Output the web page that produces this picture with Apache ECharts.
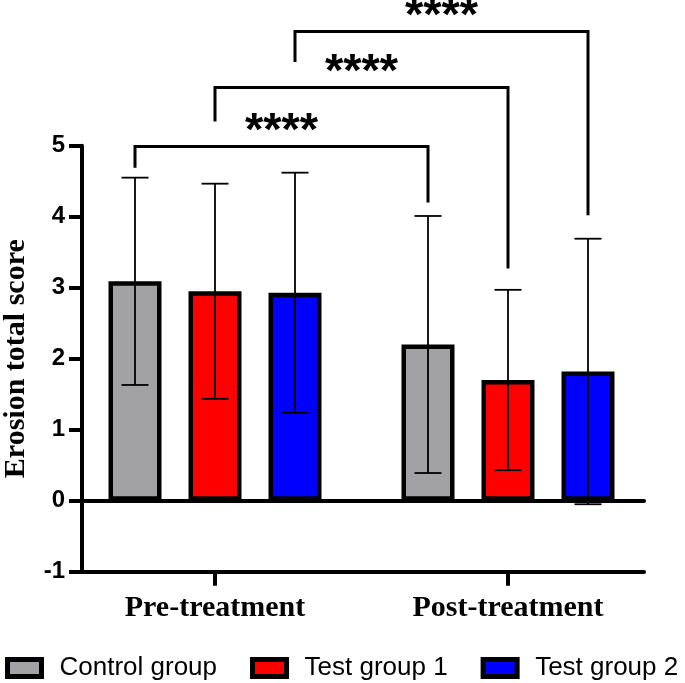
<!DOCTYPE html>
<html><head><meta charset="utf-8">
<script src="https://cdn.jsdelivr.net/npm/echarts@6/dist/echarts.min.js"></script>
<style>html,body{margin:0;padding:0;background:#fff}#c{width:685px;height:683px}</style>
</head><body><div id="c"></div>
<script>
// ---- data ----
const categories = ['Pre-treatment', 'Post-treatment'];
const groupNames = ['Control group', 'Test group 1', 'Test group 2'];
const groupColors = ['#a2a1a6', '#ff0000', '#0000ff'];
const controlMean = [3.09, 2.20];
const test1Mean = [2.95, 1.70];
const test2Mean = [2.93, 1.82];
const controlSD = [1.46, 1.81];
const test1SD = [1.515, 1.27];
const test2SD = [1.69, 1.87];
const yMin = -1, yMax = 5, yStep = 1;
// significance brackets: group index, bracket level, left leg end, right leg end (data units)
const bracketGroup = [0, 1, 2];
const bracketLevel = [4.99, 5.82, 6.61];
const bracketLeftEnd = [4.69, 5.34, 6.18];
const bracketRightEnd = [4.20, 3.27, 4.02];
const bracketLabel = ['****', '****', '****'];

// ---- style constants ----
const BAR_W = 53, BAR_GAP = 27 / 53, BORDER = 4.5;
const CAP_W = 27;
const means = [controlMean, test1Mean, test2Mean];
const sds = [controlSD, test1SD, test2SD];
function barOffset(g) { return (g - 1) * BAR_W * (1 + BAR_GAP); }

const errData = [];
for (let g = 0; g < 3; g++) for (let c = 0; c < categories.length; c++) {
  errData.push([c, means[g][c] - sds[g][c], means[g][c] + sds[g][c], g]);
}
const bracketData = bracketGroup.map((g, i) => [g, bracketLevel[i], bracketLeftEnd[i], bracketRightEnd[i], i]);

const gridBox = { top: 145.7, bottom: 683 - 571.7, containLabel: false, outerBoundsMode: 'none' };
const chart = echarts.init(document.getElementById('c'), null, { renderer: 'canvas' });
const axisBlack = { color: '#000', width: 4 };

chart.setOption({
  animation: false,
  backgroundColor: '#fff',
  grid: [
    Object.assign({ left: 68.5, right: 685 - 654.5 }, gridBox),
    Object.assign({ left: 82, right: 685 - 644 }, gridBox),
    Object.assign({ left: 82, right: 685 - 644 }, gridBox)
  ],
  xAxis: [
    { type: 'category', gridIndex: 0, data: categories,
      axisLine: { show: false, onZero: false },
      axisTick: { show: true, alignWithLabel: true, length: 14, lineStyle: axisBlack },
      axisLabel: { margin: 22, color: '#000', fontFamily: '"Liberation Serif","Times New Roman",serif', fontWeight: 'bold', fontSize: 30 } },
    { type: 'value', gridIndex: 1, min: 0, max: 1,
      axisLine: { show: true, onZero: false, lineStyle: axisBlack },
      axisTick: { show: false }, axisLabel: { show: false }, splitLine: { show: false } },
    { type: 'value', gridIndex: 2, min: 0, max: 1,
      axisLine: { show: true, onZero: true, lineStyle: axisBlack },
      axisTick: { show: false }, axisLabel: { show: false }, splitLine: { show: false } }
  ],
  yAxis: [
    { type: 'value', gridIndex: 0, min: yMin, max: yMax, interval: yStep, show: false },
    { type: 'value', gridIndex: 1, min: yMin, max: yMax, interval: yStep,
      name: 'Erosion total score', nameLocation: 'middle', nameGap: 51,
      nameTextStyle: { color: '#000', fontFamily: '"Liberation Serif","Times New Roman",serif', fontWeight: 'bold', fontSize: 30 },
      axisLine: { show: true, onZero: false, lineStyle: axisBlack },
      axisTick: { show: true, length: 13, lineStyle: axisBlack },
      axisLabel: { margin: 17, color: '#000', fontFamily: '"Liberation Sans",Arial,sans-serif', fontWeight: 'bold', fontSize: 24 },
      splitLine: { show: false } },
    { type: 'value', gridIndex: 2, min: yMin, max: yMax, interval: yStep, show: false }
  ],
  legend: {
    left: 5, top: 655, padding: 0, icon: 'rect', itemWidth: 34, itemHeight: 17, itemGap: 33,
    width: 685,
    data: groupNames,
    itemStyle: { borderColor: '#000', borderWidth: 5 },
    textStyle: { color: '#000', fontFamily: '"Liberation Sans",Arial,sans-serif', fontSize: 26, padding: [0, 0, 0, 13] }
  },
  series: groupNames.map((name, g) => ({
    name: name, type: 'bar', xAxisIndex: 0, yAxisIndex: 0,
    barWidth: BAR_W, barGap: (BAR_GAP * 100) + '%', z: 2,
    itemStyle: { color: groupColors[g], borderColor: '#000', borderWidth: BORDER },
    data: means[g]
  })).concat([
    { type: 'custom', xAxisIndex: 0, yAxisIndex: 0, z: 5, silent: true,
      data: errData,
      renderItem: function (params, api) {
        const c = api.value(0), g = api.value(3);
        const lo = api.coord([c, api.value(1)]);
        const hi = api.coord([c, api.value(2)]);
        const x = lo[0] + barOffset(g);
        const st = { stroke: '#000', lineWidth: 1.8 };
        return { type: 'group', children: [
          { type: 'line', shape: { x1: x, y1: lo[1], x2: x, y2: hi[1] }, style: st },
          { type: 'line', shape: { x1: x - CAP_W / 2, y1: lo[1], x2: x + CAP_W / 2, y2: lo[1] }, style: st },
          { type: 'line', shape: { x1: x - CAP_W / 2, y1: hi[1], x2: x + CAP_W / 2, y2: hi[1] }, style: st }
        ] };
      } },
    { type: 'custom', xAxisIndex: 0, yAxisIndex: 0, z: 6, silent: true, clip: false,
      data: bracketData,
      renderItem: function (params, api) {
        const g = api.value(0);
        const x1 = api.coord([0, 0])[0] + barOffset(g);
        const x2 = api.coord([1, 0])[0] + barOffset(g);
        const yTop = api.coord([0, api.value(1)])[1];
        const yL = api.coord([0, api.value(2)])[1];
        const yR = api.coord([0, api.value(3)])[1];
        return { type: 'group', children: [
          { type: 'polyline', shape: { points: [[x1, yL], [x1, yTop], [x2, yTop], [x2, yR]] },
            style: { stroke: '#000', lineWidth: 3, fill: null } },
          { type: 'text', style: { text: bracketLabel[api.value(4)], x: (x1 + x2) / 2, y: yTop - 14.5,
            align: 'center', verticalAlign: 'middle', fill: '#000',
            font: 'bold 47px "Liberation Sans", Arial, sans-serif' } }
        ] };
      } }
  ])
});
</script></body></html>
